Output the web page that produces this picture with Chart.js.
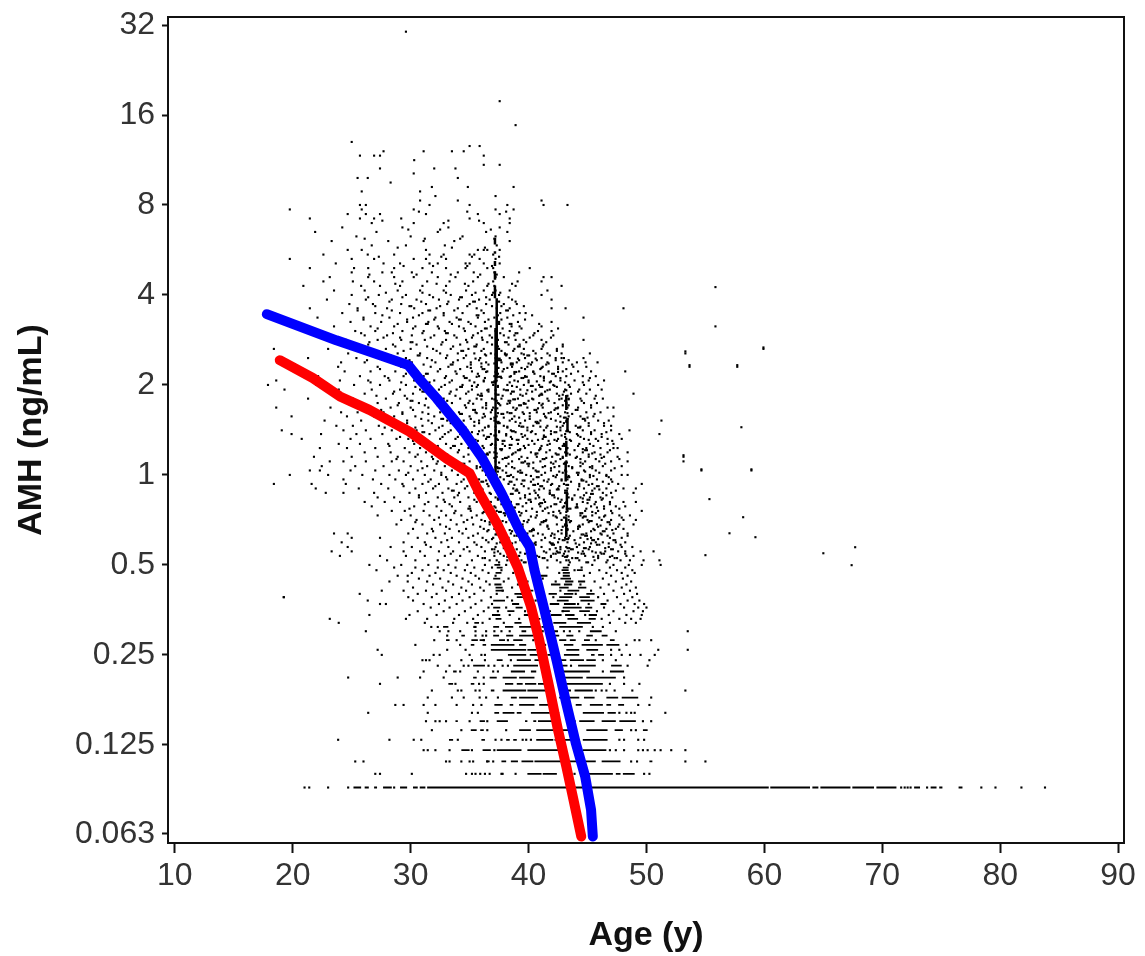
<!DOCTYPE html>
<html>
<head>
<meta charset="utf-8">
<title>AMH vs age</title>
<script src="https://cdn.jsdelivr.net/npm/chart.js@4/dist/chart.umd.min.js"></script>
<style>
  html, body { margin: 0; background: #fff; }
  canvas { display: block; }
</style>
</head>
<body>
<canvas id="chart" width="1145" height="956"></canvas>
<script>
// Valores lidos do gráfico. As medidas baixas de AMH vêm em degraus de 0.01,
// por isso ficam em linhas: cada nível tem pontos soltos e trechos contínuos.
const xTickValues = [10, 20, 30, 40, 50, 60, 70, 80, 90];
const yTickValues = [0.063, 0.125, 0.25, 0.5, 1, 2, 4, 8, 16, 32];

const blueAges = [17.8, 23.7, 26.5, 29.8, 30.8, 32.2, 34.4, 36.0, 37.7, 39.2, 40.1, 40.5, 41.4, 42.4, 43.2, 44.0, 44.8, 45.3, 45.45];
const blueAmh = [3.45, 2.82, 2.585, 2.33, 2.08, 1.805, 1.414, 1.15, 0.869, 0.655, 0.575, 0.481, 0.346, 0.2375, 0.172, 0.127, 0.098, 0.0758, 0.0617];
const redAges = [18.9, 21.7, 24.0, 26.5, 29.9, 33.0, 35.0, 35.85, 37.3, 38.4, 39.1, 40.2, 40.9, 41.8, 42.5, 43.2, 43.75, 44.47];
const redAmh = [2.42, 2.11, 1.83, 1.65, 1.396, 1.137, 1.013, 0.869, 0.691, 0.561, 0.489, 0.363, 0.281, 0.191, 0.14, 0.106, 0.084, 0.0617];

const lowLevels = [0.09, 0.10, 0.11, 0.12, 0.13, 0.14, 0.15, 0.16, 0.17, 0.18, 0.19, 0.20, 0.21, 0.22, 0.23, 0.24, 0.25, 0.26, 0.27, 0.28, 0.29, 0.30, 0.31, 0.32, 0.33, 0.34, 0.35, 0.36, 0.37, 0.38, 0.39, 0.40, 0.41, 0.42, 0.43, 0.44, 0.45, 0.46, 0.47, 0.48, 0.49, 0.50];
const lowDots = [
  [21, 21.4, 23, 24.7, 28.6, 71.6, 71.9, 72.15, 72.4, 73.8, 78.4, 79.6, 81.8, 83.8],
  [27, 27.4, 30.1, 34.7, 35.2, 35.5, 35.9, 36.3, 36.7, 37.7, 37.8, 38.9, 43.9, 49.8, 50.25],
  [25.3, 26, 33, 33.3, 34.3, 35, 35.3, 36.5, 37, 53.3, 55, 48.7, 49.2],
  [31.1, 31.45, 32.1, 33.3, 35.2, 37.1, 46.9, 47.4, 48.1, 49.3, 49.7, 50.1, 50.7, 51.2, 52.1, 53.3],
  [23.85, 28.2, 30.26, 30.9, 34, 37.2, 37.7, 39.5, 39.8, 40.2, 47.7, 48.1, 49.3, 49.8],
  [31.8, 34.3, 36.5, 38.1, 48.7, 49.1],
  [31.3, 32.1, 32.46, 33, 35, 36.5, 49.7, 50.4],
  [26.4, 31.45, 35.2, 35.7, 47.7, 48.3, 48.7, 49, 51.6],
  [28.7, 29.4, 31.1, 32.1, 33.9, 35.3, 36, 49.3, 50.25],
  [31.45, 33.5, 34.5, 35.85, 36.4, 37.4, 50.4],
  [31.8, 34, 34.3, 35.5, 35.85, 45.7, 46.2, 46.6, 47.3, 48.8, 53.3],
  [27.4, 33.8, 35.8, 36.2, 46.9, 48.1, 49.4],
  [24.7, 28.9, 30.8, 32.8, 36.2, 48.1],
  [31.1, 33, 34.2, 35.7, 37, 37.4, 46.3],
  [32.3, 33.3, 34.5, 34.9, 36.6, 37.1, 37.8, 38.25, 43.6, 48.4, 50.1],
  [31, 31.3, 31.6, 34.3, 35.2, 36.3, 38.5, 46.3, 47.4, 50.25],
  [27.55, 31.95, 32.46, 35, 36, 36.3, 47, 47.9, 48.6, 49.5, 50.7],
  [27.2, 33.1, 34.66, 42.3, 47, 47.7, 51, 53.5],
  [30.4, 34.2, 41.4, 48.3],
  [32, 33.9, 36.2, 38.25, 40.4, 45.7, 49, 49.4, 50.4],
  [33.1, 35.5, 36.1, 36.4],
  [26.2, 32.46, 33.2, 34.2, 35.5, 36.4, 37.1, 37.7, 38.4, 41.2, 43, 43.5, 44.3, 47.4, 53.5],
  [31.75, 32.3, 35.4, 35.5, 45.45, 46.3],
  [23.9, 31.2, 33.6, 34.8, 36.1, 37.9, 40.8, 46.9, 48.2, 49.1],
  [23.14, 29.6, 31.4, 33.7, 35.3, 36.7, 39.2, 46.2, 47.7, 48.7, 49.5],
  [26.5, 29.9, 32.2, 34.1, 35.7, 38.4, 44.8, 46.8, 48.3, 49.6],
  [30.6, 32.8, 34.6, 36.2, 37.4, 39.7, 42.9, 45.8, 47.2, 48.9, 49.7],
  [31.7, 33.3, 35.1, 36.6, 38.1, 40.3, 46.4, 48.1, 49.3, 50],
  [27.4, 27.9, 31.1, 32.4, 33.9, 35.5, 36.9, 44.2, 45.1, 47.8, 49, 49.8],
  [26.36, 30.2, 32.9, 34.4, 36, 38.6, 40.6, 46.7, 48.4, 49.4],
  [19.24, 29.8, 31.8, 33.5, 35, 36.8, 38.2, 42.1, 45.9, 47.5, 48.8],
  [25.68, 30.6, 32.2, 34.1, 35.4, 37.3, 39.4, 44, 46.4, 48.1, 49.2],
  [27.55, 29.4, 31.3, 33, 34.7, 36.2, 37.8, 42.7, 45.3, 47.2, 48.6],
  [30.2, 32.7, 34.3, 35.9, 38.6, 40.9, 46.1, 47.9, 49.1],
  [31.9, 33.6, 35.2, 36.7, 39.1, 44.4, 46.8, 48.3],
  [28.2, 29.75, 31.4, 33.2, 34.9, 36.4, 37.9, 42.3, 45.6, 47.4, 48.7],
  [30.7, 32.5, 34.4, 35.8, 38.3, 41.2, 46.3, 48],
  [28.9, 29.75, 31.6, 33.9, 35.5, 37.2, 39.5, 44.7, 47, 48.4],
  [30.1, 32.1, 33.4, 35.1, 36.6, 38.7, 42.6, 45.2, 46.6, 47.9, 49],
  [27.1, 31, 32.8, 34.6, 36.1, 37.7, 40.2, 43.9, 46, 47.5, 48.8],
  [28.6, 30.4, 32.3, 33.8, 35.4, 36.9, 39, 41.6, 44.5, 46.9, 48.2],
  [26.5, 29.2, 31.5, 33.2, 34.8, 36.3, 38.1, 40.7, 43.4, 45.4, 47.2, 48.5, 49.6, 51.2]
];
const lowRuns = [
  [[25.15, 25.8], [26.1, 26.45], [26.9, 27.15], [27.66, 28.4], [29.1, 29.7], [30.2, 30.6], [30.77, 31.25], [31.4, 60.37], [60.5, 63.87], [64.07, 64.58], [64.75, 67.3], [67.46, 69.3], [69.5, 71.2], [72.7, 73.2], [74.1, 74.6], [74.83, 75.1], [76.47, 76.8]],
  [[39.9, 41.1], [41.2, 42.4], [44.9, 47.15], [47.4, 47.8], [48, 49]],
  [[36.4, 36.7], [37.7, 38.1], [38.5, 39.1], [39.4, 40.4], [40.5, 41.8], [41.8, 42.8], [43.5, 45.7], [46.2, 47.8], [50.25, 50.5]],
  [[34.3, 35], [36.1, 36.8], [37.3, 39.4], [39.9, 42.5], [44.6, 46.6]],
  [[33.25, 33.6], [36, 36.3], [38.1, 38.4], [38.7, 39], [40.65, 42.1], [42.2, 44.3], [44.6, 46.7]],
  [[35.1, 35.6], [35.9, 36.2], [39.2, 40.2], [40.65, 42.1], [42.9, 43.8], [44.9, 46.7], [47.3, 48], [49.7, 50.1]],
  [[33.8, 34], [35.85, 36.3], [37.3, 38.25], [39.7, 39.9], [40.4, 40.65], [40.8, 42.1], [43.5, 44], [44.3, 45.6], [46.2, 47.4], [47.7, 49.1]],
  [[37.1, 37.5], [37.8, 38.8], [39, 39.4], [40.2, 41.8], [42.1, 42.6], [44.6, 46.4], [46.7, 47.4]],
  [[37.1, 37.8], [38.4, 38.7], [39.2, 40.5], [40.9, 41.8], [42.9, 43.6], [44, 44.5], [45.2, 46.3], [46.6, 47], [47.6, 48.1]],
  [[38.5, 39], [39.2, 40.8], [42.6, 44.3], [44.7, 45.6], [46.6, 47.6], [47.9, 49.3]],
  [[36.8, 37.1], [37.8, 39.8], [39.9, 41.8], [42.6, 43.6], [43.9, 45.45]],
  [[33.2, 33.6], [35.1, 35.4], [38, 38.7], [39, 39.5], [39.7, 40.65], [40.8, 41.8], [42.9, 46.3]],
  [[35.3, 35.6], [36.7, 37.3], [37.8, 39], [39.2, 40.5], [42.9, 44.6], [44.9, 47.4]],
  [[33.6, 33.9], [38.5, 39.7], [40.2, 40.65], [42.8, 45.2], [46.9, 48.1]],
  [[35.3, 36.3], [38.7, 40.8], [42.5, 43.3], [44.2, 45.7], [47, 47.9]],
  [[37.3, 37.8], [39, 40.2], [40.5, 40.9], [42.5, 43.2], [43.5, 44.7], [44.9, 45.7]],
  [[38.25, 39.8], [40.1, 41.1], [41.6, 42.6], [43, 44.3], [45.3, 45.6], [45.9, 46.4]],
  [[36.8, 39.8], [39.9, 40.65], [43.2, 44.3], [44.9, 45.9]],
  [[35.1, 35.4], [36.1, 36.4], [36.8, 38.8], [39.2, 39.8], [43, 43.8], [44.5, 46.3], [46.6, 47.7]],
  [[33, 33.3], [35.15, 35.7], [35.85, 36.3], [37.5, 38], [38.7, 39.5], [42.6, 43.2], [43.5, 44], [44.7, 45.2], [46.9, 47.3]],
  [[34.3, 34.6], [37, 37.5], [38.1, 38.7], [39.2, 40.4], [41.8, 42.6], [43.2, 43.8], [44.9, 45.45], [46.2, 46.7]],
  [[39.4, 39.8], [41.9, 42.5], [45.2, 46.2]],
  [[32.75, 33.2], [37, 37.5], [38, 38.7], [39.2, 40.4], [41.1, 42.1], [42.6, 44.6]],
  [[35.4, 35.8], [38.8, 39.4], [42.1, 43.2], [44.1, 45.3]],
  [[37.2, 37.7], [40.4, 41], [43.3, 44.2], [45.1, 45.7]],
  [[36.9, 37.6], [39.6, 40.2], [41.9, 42.8], [43.1, 43.9], [45.1, 45.8]],
  [[38.2, 38.8], [41.3, 41.9], [42.8, 43.5], [44.3, 45.2]],
  [[37, 37.6], [38.9, 39.5], [42.9, 44.5], [44.8, 45.4]],
  [[38.6, 39.2], [41.8, 42.6], [43, 44], [46.1, 46.6]],
  [[37, 38], [41, 41.5], [42.4, 43.4], [44.4, 45.6]],
  [[39, 39.7], [42.6, 43.7], [44.3, 45.2]],
  [[38.8, 39.4], [41.7, 42.4], [43, 43.8], [44.9, 45.6]],
  [[37.2, 37.9], [39.8, 40.4], [43.3, 44.3]],
  [[37.2, 37.8], [42.6, 43.4], [44.2, 44.9]],
  [[37.1, 37.7], [41.9, 42.7], [43, 43.7]],
  [[39.4, 40], [43.1, 43.8], [44.2, 44.8]],
  [[37, 37.6], [39.3, 39.8], [42.7, 43.6]],
  [[41, 41.6], [42.9, 43.5]],
  [[37.2, 37.7], [42.9, 43.5]],
  [[42.8, 43.4], [44.1, 44.6]],
  [[37.3, 37.8], [42.9, 43.4]],
  [[37.1, 37.6]]
];

const upperLevels = [0.518, 0.536, 0.555, 0.574, 0.595, 0.616, 0.637, 0.66, 0.683, 0.707, 0.732, 0.758, 0.785, 0.812, 0.841, 0.871, 0.901, 0.933, 0.966, 1.00, 1.035, 1.07, 1.11, 1.15, 1.19, 1.23, 1.27, 1.32, 1.37, 1.41, 1.46, 1.52, 1.57, 1.62, 1.68, 1.74, 1.80, 1.87, 1.93, 2.00, 2.07, 2.14, 2.22, 2.30, 2.38, 2.46, 2.55, 2.64, 2.73, 2.83, 2.93, 3.03, 3.14, 3.25, 3.36, 3.48, 3.61, 3.73, 3.86, 4.00, 4.14, 4.29, 4.44, 4.59, 4.76, 4.92, 5.10, 5.28, 5.46, 5.66, 5.86, 6.06, 6.28, 6.50, 6.73, 6.96, 7.21, 7.46, 7.73, 8.00, 8.28, 8.57, 8.88, 9.19, 9.51, 9.85, 10.2, 10.6, 10.9, 11.3, 11.7, 12.1, 12.6, 13.0];
const upperDots = [
  [28, 30.4, 32.3, 33.9, 35.2, 36.7, 37.3, 38.2, 39.4, 40.1, 41.6, 42.4, 43.2, 43.4, 44.3, 45.6, 46.7, 47.8, 48.6, 49.75, 51.1],
  [24, 27.4, 29.6, 31.2, 32.9, 34.2, 35.7, 37.1, 37.9, 39.2, 40.7, 41.9, 42.9, 43.3, 44.8, 45.9, 47.1, 48.3, 48.9],
  [23.3, 25, 29.4, 30.8, 32.4, 33.6, 35, 36.3, 37.4, 38.6, 39.9, 41.3, 42.4, 43.1, 43.4, 44.6, 45.4, 46.5, 47.6, 48.2, 49.5, 50.6],
  [24.66, 28.3, 30.1, 31.7, 33.2, 34.8, 36, 37.2, 38.1, 40.3, 41.1, 42.7, 43.2, 44.1, 45.2, 46.8, 47.9, 48.8],
  [24.15, 29.4, 31.2, 32.6, 34.1, 35.4, 36.6, 37.6, 38.9, 40.6, 41.8, 42.5, 43.3, 44.7, 45.7, 46.3, 47.4, 48.2],
  [25, 27.4, 30.6, 32.1, 33.5, 34.9, 36.1, 37, 38.3, 39.6, 41.4, 42.2, 43.1, 43.4, 44.4, 45.3, 46.9, 47.9],
  [23.5, 24.66, 29.8, 31.4, 32.9, 34.4, 35.7, 37.3, 38.5, 39.9, 40.8, 42, 42.8, 43.2, 44.9, 46.1, 47.2, 48.4],
  [30.2, 31.8, 33.3, 34.7, 36.2, 37.1, 37.8, 39.1, 40.4, 41.7, 43.3, 44.2, 45.5, 46.6, 47.4, 48.05],
  [28.8, 31, 32.5, 33.9, 35.3, 36.7, 37.4, 38.7, 39.5, 41, 42.4, 43.1, 44.6, 45.8, 46.9, 47.7, 48.9],
  [29.2, 30.5, 32, 33.4, 34.8, 36, 37.2, 38.4, 40, 41.5, 42.8, 43.4, 45, 46.2, 47, 48.05, 49.1],
  [27.2, 30, 31.6, 33, 34.3, 35.6, 36.9, 38, 39.3, 40.7, 42.1, 43.2, 44.4, 45.4, 46.5, 47.7, 48.6],
  [28.4, 29.5, 31.1, 32.6, 33.8, 35.1, 36.5, 37.3, 38.8, 39.8, 41.2, 42.6, 43.3, 44.8, 45.9, 47, 49.6],
  [26.7, 30.3, 32.2, 33.5, 35, 36.2, 37.1, 37.9, 39.5, 41, 41.9, 43, 44.1, 45.3, 46.4, 47.4, 48.2],
  [26.1, 27.8, 29.1, 31.5, 32.9, 34.2, 35.6, 36.8, 38.5, 40.2, 41.4, 42.7, 43.2, 44.6, 45.7, 46.9, 48.05, 49.1],
  [27.2, 28.6, 30.7, 32.3, 33.7, 34.9, 36.3, 37.2, 38.2, 39.7, 40.9, 42.2, 43.4, 44.4, 45.2, 46.1, 47.1],
  [22.8, 24.3, 26.9, 29.9, 31.3, 32.7, 34.1, 35.4, 36.7, 37.6, 39.2, 40.6, 41.8, 43.1, 44.9, 46.3, 47, 48.9],
  [21.95, 25.6, 28.1, 30.4, 31.9, 33.2, 34.6, 36, 37.3, 38.7, 40, 41.3, 42.5, 43.3, 44.7, 45.6, 46.6, 48.05, 49.1],
  [18.4, 21.6, 24.5, 27.5, 29.3, 31, 32.4, 33.9, 35.2, 36.5, 37.1, 38.3, 39.4, 40.8, 42, 43, 44.3, 45.4, 46.8, 47.6, 49.6],
  [24.3, 26.8, 28.7, 30.2, 31.7, 33.1, 34.5, 35.8, 37.2, 37.9, 39, 40.4, 41.7, 42.8, 43.3, 44.5, 45.8, 47],
  [19.75, 23, 25.9, 28.2, 29.6, 31.2, 32.6, 34, 35.3, 36.4, 37.3, 38.5, 39.8, 41.1, 42.4, 43.2, 44.2, 45.2, 46.6, 47.9, 48.4],
  [21.45, 22.3, 24.9, 27, 29, 30.6, 32, 33.5, 34.7, 36.1, 37, 37.8, 39.3, 40.6, 41.9, 43.1, 44.7, 45.7, 47, 54.66, 58.9],
  [22.46, 25.3, 27.7, 30, 31.4, 32.9, 34.2, 35.6, 36.8, 38.1, 40, 41.4, 42.6, 43.4, 44.4, 45.4, 46.3, 47.9],
  [23.14, 24.3, 26.2, 28.4, 29.4, 30.9, 32.3, 33.7, 35, 36.5, 37.2, 38.6, 39.7, 41, 42.3, 43.2, 44.8, 46, 47, 48.4, 53.14],
  [21.8, 25, 27.2, 28.9, 30.4, 31.8, 33.1, 34.5, 35.9, 37.3, 38.3, 39.4, 40.7, 42, 42.9, 44.1, 45.1, 46.4, 47.55, 53.14],
  [26.1, 28.3, 29.9, 31.3, 32.6, 34, 35.4, 36.7, 37.1, 38.9, 40.2, 41.5, 43.1, 44.6, 45.6, 46.7, 48.4],
  [22.3, 24.6, 27, 29.5, 30.8, 32.2, 33.4, 34.9, 36.2, 37.2, 38.4, 39.7, 41, 42.6, 43.3, 44.9, 46.1, 47.2, 47.55],
  [23.9, 25.7, 28.1, 30.3, 31.7, 33, 34.3, 35.6, 36.9, 37.8, 39.1, 40.5, 41.8, 43, 44.3, 45.2, 46.7, 47.2],
  [20.76, 24.9, 26.6, 28.8, 29.8, 31.2, 32.5, 33.8, 35.1, 36.4, 37.3, 38.6, 39.9, 41.2, 42.5, 43.2, 44.7, 45.7, 46.7, 47.9],
  [19.9, 22.4, 25.4, 27.6, 30, 31.6, 32.9, 34.2, 35.7, 36.8, 38.1, 39.4, 40.6, 41.9, 43.1, 44.1, 45.3, 46.2, 47.7, 51.1],
  [19.07, 24.3, 26.2, 28.4, 30.5, 32.1, 33.4, 34.8, 36.1, 37.2, 38.5, 39.9, 41.3, 42.7, 43.3, 44.6, 45.6, 47, 48.56],
  [23.7, 25.1, 27.3, 29.2, 31, 32.7, 34, 35.4, 36.6, 37.9, 39.2, 40.4, 41.6, 42.9, 44, 45.1, 46.4, 47],
  [22.7, 25.8, 28, 29.7, 31.5, 33.1, 34.5, 35.8, 37.1, 38.4, 39.7, 41, 42.3, 43.2, 44.8, 45.9, 46.8, 51.27],
  [19.9, 24.6, 26.9, 28.6, 30.4, 32, 33.6, 35, 36.3, 37.3, 38.8, 40.1, 41.4, 42.7, 43.4, 44.4, 45.5, 47.2],
  [24.1, 25.5, 27.7, 29.3, 31, 32.5, 34.1, 35.5, 36.8, 38.2, 39.5, 40.7, 41.9, 43.1, 44.9, 46.1],
  [18.6, 23.2, 26.3, 28.3, 30, 31.5, 33, 34.7, 36.1, 37, 38.7, 39.9, 41.2, 42.5, 43.3, 44.2, 45.3, 46.7, 47.2],
  [24.6, 25.6, 27.2, 29, 30.7, 32.2, 33.5, 34.9, 36.4, 37.4, 38.4, 39.6, 40.9, 42.2, 43.2, 44.7, 45.8],
  [21.3, 25.1, 27.9, 29.7, 31.3, 32.8, 34.2, 35.6, 36.9, 37.7, 39.1, 40.3, 41.6, 42.8, 43.4, 44.4, 45.6, 46.3],
  [23.4, 26.1, 28.5, 30.2, 31.9, 33.3, 34.7, 36, 37.2, 38.5, 39.8, 41.1, 42.4, 43.6, 44.9, 48.9],
  [19.3, 23.9, 26.7, 29.1, 30.8, 32.4, 33.9, 35.2, 36.6, 37.9, 39.3, 40.6, 41.8, 43.1, 44.3, 45.2, 46.2],
  [17.9, 22, 25.2, 27.4, 29.6, 31.4, 32.9, 34.4, 35.7, 37, 38.2, 39.6, 40.9, 42.1, 43.4, 44.7, 45.9],
  [18.6, 24, 26.4, 28.2, 30.3, 32, 33.5, 35, 36.2, 37.3, 38.8, 40, 41.3, 42.7, 43.9, 45.1, 46.4],
  [21.3, 22.15, 25.7, 27.8, 29.4, 31.1, 33, 34.5, 35.8, 37.1, 38.5, 39.7, 41, 42.3, 43.2, 44.6, 45.7],
  [24.4, 26.6, 28.7, 30.6, 32.3, 33.8, 35.2, 36.5, 37.8, 39.2, 40.4, 41.7, 42.9, 44.2, 45.3, 48.2],
  [19.75, 23.85, 27.2, 29.2, 31.7, 33.2, 34.8, 36, 37.3, 38.6, 39.9, 41.2, 42.5, 43.8, 44.9, 53.65, 57.7],
  [24.1, 26.1, 28.4, 30.1, 32.1, 33.6, 35.1, 36.4, 37.7, 39, 40.3, 41.6, 42.9, 44.1, 45.85, 44.83],
  [21.3, 25.4, 27.6, 29.6, 31.4, 33, 34.5, 35.9, 37.2, 38.4, 39.7, 41.1, 42.3, 42.8, 43, 44.66],
  [24.7, 26.8, 28.9, 30.8, 32.5, 34, 35.4, 36.8, 38, 39.4, 40.6, 41.6, 42.8, 45.2, 53.3],
  [18.4, 23, 25.9, 27.9, 30, 31.9, 33.4, 34.9, 36.2, 37.5, 38.8, 39.6, 41.1, 42.4, 59.92],
  [26.4, 28.5, 30.5, 32.6, 34.2, 35.6, 36.9, 38.3, 39.24, 41.27, 42.9],
  [24.5, 27.2, 29.2, 31.2, 33, 34.7, 36.1, 37.4, 38.9, 39.58, 41.1, 44.66],
  [22.6, 26.1, 28, 30.1, 32, 33.7, 35.3, 36.7, 37.9, 38.8, 40.4, 42.1],
  [25.3, 27, 29.3, 31.1, 32.9, 34.6, 36, 37.2, 38.4, 40.8, 41.95],
  [23.5, 26.6, 28.6, 30.4, 32.3, 34.1, 35.5, 36.8, 38.56, 39.24, 41.1, 55.85],
  [24.9, 27.5, 29.7, 31.5, 33.3, 34.9, 36.3, 37.5, 39.1, 41.95],
  [22.1, 26, 28.2, 30.2, 32.1, 33.9, 35.7, 37.1, 38.2, 44.66],
  [24.2, 27, 29.1, 31, 32.8, 34.4, 36.2, 37.6, 39.24, 39.75],
  [21.45, 25.5, 28, 30.3, 32.2, 34, 35.6, 37.3, 38.4, 41.95, 43.14, 48.05],
  [24.8, 26.8, 29.2, 31.3, 33.1, 35, 36.4, 37.9, 39],
  [22.9, 26.2, 28.4, 30.5, 32.4, 34.1, 35.8, 36.7, 38.6, 41.95],
  [25, 27.3, 29.6, 31.6, 33.4, 35.2, 36.9, 37.5, 41.1],
  [23.5, 26.1, 28.9, 30.8, 32.8, 34.7, 36.2, 37.2, 38.4, 41.6],
  [20.9, 25.8, 27.4, 29.1, 31, 33, 34.9, 36.5, 37.1, 38.9, 42.8],
  [22.6, 25.1, 26.9, 29.3, 31.4, 33.3, 35.3, 37, 39.07, 41.1],
  [23.14, 26.4, 28.6, 30.26, 32.3, 33.8, 35.7, 37.2, 37.9, 41.27, 41.95],
  [25, 27.6, 28.4, 30.1, 31.8, 34, 35.35, 37.1, 39.2],
  [21.45, 25.2, 26.4, 28.6, 31, 33, 34.66, 36.5, 37, 40.1],
  [23.65, 27.7, 29.1, 31.6, 32.3, 34.66, 35, 36.2, 37.55],
  [19.75, 25, 26.9, 30.26, 31.3, 33, 35.85, 37.2],
  [22.6, 26.36, 28.6, 31.6, 32.8, 35, 35.4, 37],
  [24.66, 25.85, 31.3, 35.7, 36.5, 36.2, 37.55],
  [26.7, 29.6, 32.9, 37.3],
  [23.3, 28.1, 31.1, 33.7, 38.4],
  [25.4, 30, 34.4, 37.2],
  [21.9, 27.1, 32.3, 36.4, 38.2],
  [24.2, 29.3, 33.2, 37.55],
  [26.7, 30.26, 32.8, 36.2, 38.4],
  [21.45, 25.7, 26.9, 29.2, 35, 38.4],
  [24.66, 26.2, 27.4, 31.3, 35.7, 37.55],
  [19.75, 25.85, 30.26, 37.2, 38.73],
  [25.7, 26.2, 31.6, 35, 38.2, 41.27, 43.3],
  [30.8, 34, 41.1],
  [32.1, 37.2],
  [25.85, 30.8],
  [31.8, 34.85, 38.73],
  [28.3],
  [25.5, 26.36, 34],
  [30.26],
  [27.4, 33.8, 32],
  [36.2, 37.55],
  [30.3],
  [26.9, 27.4, 25.7, 36.2],
  [27.7, 31.1, 33.5, 34.5],
  [35, 35.85],
  [25]
];

// Pontos da nuvem densa, entre os níveis acima (estimados na leitura).
const midLevels = [0.527, 0.545, 0.564, 0.584, 0.605, 0.626, 0.648, 0.671, 0.695, 0.72, 0.745, 0.771, 0.798, 0.826, 0.855, 0.886, 0.917, 0.949, 0.983, 1.017, 1.053, 1.09, 1.13, 1.17, 1.21, 1.25, 1.30, 1.34, 1.39, 1.44, 1.49, 1.54, 1.60, 1.65, 1.71, 1.77, 1.84, 1.90, 1.97, 2.04, 2.11, 2.18, 2.26, 2.34, 2.42, 2.51, 2.60, 2.69, 2.78, 2.88, 2.98, 3.09, 3.20, 3.31, 3.42, 3.55, 3.67, 3.80, 3.93, 4.07, 4.36, 4.68, 5.0, 5.37, 5.76, 6.17, 6.62, 7.09, 7.6];
const midDots = [
  [36.1, 36.3, 38.7, 38.9, 41.2, 41.35, 43.7, 44, 44.15, 45.9, 47.3, 47.5],
  [33.4, 37.6, 38.4, 39.7, 42.1, 42.3, 43, 44.5, 44.7, 46.2, 46.4, 48.2],
  [34.5, 36.9, 37.1, 39, 41.8, 42.7, 43.6, 43.75, 45.1, 47, 47.15],
  [31.3, 35.6, 38.3, 38.5, 40.6, 42, 42.15, 44.3, 45.8, 46, 47.8],
  [33.1, 36.4, 37.7, 39.3, 41.1, 42.9, 43.05, 43.9, 45.4, 45.55, 47.2, 47.35],
  [35.3, 37.5, 38.8, 39, 40.4, 41.9, 43.5, 44.8, 44.95, 46.7, 48.4],
  [31.9, 34.1, 36.5, 38.6, 40.1, 40.25, 42.5, 43.8, 45.3, 46.3, 46.45],
  [33, 35.9, 37.4, 37.55, 39.5, 41.6, 42.9, 44.2, 44.35, 45.9, 47.6],
  [30.4, 34.5, 36.7, 38.1, 39.9, 41.1, 41.25, 43.5, 45.1, 46.7, 46.85],
  [32.4, 35.2, 37, 38.8, 38.95, 40.6, 42.4, 43, 43.15, 44.6, 46, 47.9],
  [33.7, 36.1, 37.9, 38.05, 39.4, 41.7, 42.7, 44.4, 44.55, 45.7, 47.1],
  [29.9, 34.9, 35.05, 36.8, 38.5, 40.3, 41.4, 43.4, 43.55, 44.9, 46.4, 47.7],
  [31.2, 33.3, 36.4, 37.7, 39, 39.15, 40.9, 42.2, 42.35, 44.1, 45.6, 46.9],
  [32.8, 35.4, 37.4, 38.2, 40, 40.15, 41.3, 42.8, 43.7, 45, 45.15, 46.2],
  [30.7, 34, 36.2, 37.8, 39.7, 40.8, 42, 42.15, 43.9, 44.7, 46.6],
  [33.5, 33.65, 35.8, 37.3, 38.9, 39.05, 40.5, 41.8, 43.1, 43.25, 45.4, 47.4],
  [29.4, 32.1, 34.8, 36.6, 37.7, 39.6, 41, 41.15, 42.6, 44.3, 45.8, 45.95],
  [31.5, 34.3, 36, 36.15, 38.4, 38.55, 40.2, 41.6, 43.6, 44.9, 46.3, 47.1],
  [33, 35.3, 37.6, 38.7, 40.7, 40.85, 42.3, 43.3, 43.45, 45.2, 46.8],
  [29.8, 32.6, 34.7, 36.7, 38.1, 39.3, 39.45, 41.4, 42.9, 44.1, 44.25, 46],
  [31, 33.8, 35.6, 37.4, 37.55, 38.8, 40.4, 41.9, 43.7, 45.4, 47.3],
  [32.2, 34.4, 34.55, 36.3, 38.3, 39.9, 40.05, 42.1, 43, 43.15, 44.6, 46.5],
  [28.8, 31.9, 33.5, 35.9, 37.8, 39.2, 41.2, 41.35, 42.7, 44.4, 45.7, 47.7],
  [30.6, 33.1, 34.9, 36.4, 36.55, 38.6, 40.6, 42.4, 42.55, 43.5, 45.1, 46.1],
  [31.6, 34.1, 35.3, 37.7, 39.1, 39.25, 40.9, 41.8, 43.9, 44.8, 44.95, 46.9],
  [28.2, 32.3, 33.6, 33.75, 36.1, 38, 39.6, 41.1, 42.9, 43.05, 44.2, 45.5],
  [30.2, 31.4, 34.7, 35.7, 37.8, 37.95, 40.3, 41.7, 42.4, 43.6, 45.9, 47.1],
  [29.1, 32.7, 34, 36.5, 36.65, 38.5, 39.5, 41.3, 41.45, 43.1, 44.4, 46.2],
  [31, 31.15, 33.2, 35.2, 37.5, 38.9, 40.2, 42.2, 42.35, 43.5, 45.3, 46.6],
  [27.8, 30.4, 32.4, 34.5, 34.65, 36.3, 38.2, 39.9, 41.5, 42.7, 44.2, 44.35],
  [29.7, 31.8, 33.4, 35.8, 37.4, 37.55, 39.3, 40.7, 40.85, 43, 45.1, 46.4],
  [28.4, 30.9, 32.6, 32.75, 35.1, 36.8, 38.6, 40.1, 41.9, 43.3, 44.6, 44.75],
  [29.3, 31.5, 34.2, 34.35, 36.2, 37.7, 37.85, 39.6, 41.3, 42.5, 43.7, 45.6],
  [27.5, 30.2, 33, 35.3, 35.45, 36.9, 38.9, 40.5, 40.65, 42.2, 44, 44.15],
  [28.9, 31.2, 32.3, 34.6, 36.4, 37.6, 39.2, 39.35, 41.1, 42.9, 43.4, 45.3],
  [30, 30.15, 33.1, 35, 37.3, 38.3, 38.45, 40, 41.7, 43.1, 44.5],
  [27.1, 29.5, 32, 33.8, 35.9, 36.05, 37.8, 39.5, 40.9, 42.6, 43.3, 45.7],
  [28.6, 31, 31.15, 33.4, 34.9, 36.6, 38.6, 38.75, 40.3, 41.4, 43, 44.2],
  [30.4, 32.6, 34.2, 34.35, 35.6, 37.4, 39, 41, 41.15, 42.4, 43.5],
  [26.6, 29.2, 31.6, 33.3, 35.4, 36.9, 37.05, 38.4, 40, 41.8, 43.1, 44.6],
  [28.1, 30.8, 32.9, 34.6, 34.75, 36.3, 37.7, 39.4, 39.55, 41.3, 42.7, 45.2],
  [29.6, 31.3, 31.45, 33.9, 35.7, 37.4, 38.8, 40.5, 42, 42.15, 43.6],
  [27.4, 30.1, 32.5, 34.2, 36.1, 36.25, 37.9, 39.7, 41, 42.5, 43.2],
  [28.8, 31.1, 33.4, 33.55, 35.1, 36.6, 38.5, 38.65, 40.2, 41.5, 43.7],
  [26.3, 29.9, 31.8, 34, 35.8, 37.5, 37.65, 39.2, 40.7, 42.3, 43.4],
  [28.3, 30.6, 30.75, 33.1, 34.7, 36.4, 38.1, 39.9, 40.05, 41.8],
  [27, 29.4, 32.2, 34.3, 34.45, 36, 37.7, 38.7, 40.4, 42.4],
  [28.7, 31.4, 33.6, 35.4, 35.55, 37.4, 39.1, 39.25, 41.2, 42.9],
  [26.5, 30, 30.15, 32.7, 34.8, 36.5, 38, 38.15, 39.8, 41.5],
  [27.7, 29.1, 31.7, 33.9, 35.2, 36.9, 36.05, 38.3, 40.1, 41.9],
  [25.8, 28.5, 31, 33, 33.15, 35.7, 37.6, 38.9, 39.05, 40.5],
  [27.2, 30.2, 32.4, 34.5, 36.3, 36.45, 37.8, 39.4, 42.5],
  [28.9, 31.3, 31.45, 33.5, 35.1, 37.5, 38.4, 38.55, 40.9],
  [26, 29.7, 32, 34.1, 34.25, 36.6, 37.7, 39.7],
  [27.6, 30.7, 32.8, 35.6, 35.75, 37.4, 38.7, 40.3],
  [25.5, 28.4, 31.5, 31.65, 33.7, 36, 38.1, 38.25],
  [27, 29.9, 30.05, 32.5, 34.8, 36.9, 37.7, 39.6],
  [28.2, 30.9, 33.2, 35.3, 35.45, 37.5, 38.9],
  [26.4, 29.3, 31.9, 34.2, 34.35, 36.4, 38.3],
  [27.9, 31, 33, 35.5, 37, 37.6],
  [28.7, 32.2, 34.6, 36.6, 38.6],
  [26.5, 30.5, 33.4, 35.9, 37.3],
  [29.4, 31.9, 34.8, 36.9],
  [27.3, 32.6, 35.2, 37.5],
  [28.9, 33.5, 36.3],
  [26.1, 31.2, 34.2, 37.1],
  [29.8, 32.5, 36.8],
  [27.6, 33.2, 35.8],
  [30.7, 34.8, 38.1]
];

// Miolo mais carregado da nuvem: idades 36 a 46, AMH de 0.5 a 2.6.
const coreLevels = [0.51, 0.532, 0.55, 0.569, 0.59, 0.61, 0.632, 0.654, 0.677, 0.701, 0.726, 0.752, 0.778, 0.805, 0.834, 0.864, 0.894, 0.926, 0.958, 0.992, 1.026, 1.062, 1.10, 1.14, 1.18, 1.22, 1.26, 1.31, 1.355, 1.40, 1.45, 1.505, 1.555, 1.61, 1.67, 1.73, 1.79, 1.855, 1.92, 1.985, 2.055, 2.13, 2.21, 2.28, 2.36, 2.45, 2.53];
const coreDots = [
  [37.5, 39.6, 39.75, 42.7, 43.5, 44.9, 45.05, 46.6],
  [38.2, 38.35, 40.9, 41.9, 43.1, 43.25, 45.5, 46.9],
  [37.1, 39.3, 41.5, 42.5, 42.65, 44.2, 45.7, 46.1],
  [37.9, 39.9, 42.3, 43.3, 43.45, 44.7, 44.85, 46.5],
  [37.3, 38.6, 40.5, 41.9, 42.05, 44, 45.3, 46.8],
  [36.9, 38.2, 39.7, 42.6, 43.2, 43.35, 45, 45.9],
  [37.2, 37.35, 39.1, 41.2, 42.2, 44.5, 44.65, 46.2],
  [36.6, 38.4, 40.3, 40.45, 42.8, 43.3, 45.6, 47.1],
  [37.3, 38.9, 39.05, 41.6, 43.1, 43.25, 44.3, 46.1],
  [36.3, 37.8, 39.6, 41.3, 41.45, 43.6, 45.2, 45.35],
  [37.1, 38.3, 40.2, 42.3, 43.4, 44.7, 44.85, 46.4],
  [36.2, 37.5, 37.65, 39.2, 40.7, 42.1, 43.2, 45.4],
  [37.2, 38.7, 38.85, 41.6, 42.9, 44, 44.15, 45.8],
  [36.5, 38, 39.8, 41, 41.15, 43.1, 43.25, 45],
  [37.4, 37.55, 39.3, 40.6, 42.5, 43.7, 44.6, 46.3],
  [36.8, 38.5, 38.65, 40.1, 41.8, 43.3, 45.3, 45.45],
  [36.1, 37.2, 39, 40.9, 42.4, 42.55, 44.2, 46],
  [37.6, 38.8, 40.4, 40.55, 41.9, 43.2, 43.35, 45.1],
  [36.4, 37.3, 39.5, 39.65, 41.3, 42.8, 44.5, 44.65],
  [37.1, 38.2, 38.35, 40.2, 42.1, 43.4, 45.5, 46.6],
  [36.7, 37.4, 39.1, 40.7, 40.85, 42.6, 43.2, 44.8],
  [35.9, 37.2, 37.35, 38.6, 41.2, 42.2, 43.7, 45.2],
  [36.3, 37.5, 39.4, 39.55, 40.4, 41.9, 43.1, 43.25, 44.4],
  [37.1, 38, 38.15, 39.9, 41.5, 42.9, 44, 46.2],
  [36.5, 37.3, 38.7, 40.6, 40.75, 42.3, 43.3, 45.4],
  [35.7, 37.6, 37.75, 39.3, 41, 42.7, 43.2, 44.6],
  [36.8, 37.2, 38.4, 38.55, 40, 41.6, 43, 43.15],
  [35.5, 37.4, 39, 39.15, 40.8, 42.2, 43.5, 45.1],
  [36.2, 37.1, 37.25, 38.1, 39.7, 41.3, 42.8, 44.2],
  [35.8, 37.5, 38.6, 38.75, 40.3, 41.9, 43.2, 43.35],
  [36.6, 37.2, 38.2, 39.4, 39.55, 41, 42.4, 44.4],
  [35.4, 37.3, 37.45, 38.9, 40.6, 40.75, 42.7, 43.2],
  [36.1, 37.1, 37.9, 39.2, 41.5, 43, 43.15, 45],
  [35.6, 37.4, 38.4, 38.55, 40.1, 41.7, 43.3],
  [36.4, 37.2, 37.35, 39, 40.8, 42.3, 42.45],
  [35.3, 37.5, 38.2, 39.6, 39.75, 41.2, 43.2],
  [36, 37.1, 38.7, 38.85, 40.4, 42.6, 43.4],
  [35.7, 37.3, 37.45, 39.3, 41, 41.15, 42.9],
  [36.5, 37.2, 38.1, 38.25, 39.9, 41.6, 43.2],
  [35.2, 37.4, 38.6, 40.2, 40.35, 42.2],
  [36.2, 37.1, 37.25, 39.1, 40.7, 41.9],
  [35.6, 37.5, 37.65, 38.4, 39.7, 39.85, 41.3],
  [36.4, 37.2, 38.8, 38.95, 40.4, 42.5],
  [35.1, 37.3, 37.45, 38.2, 39.4, 41.1],
  [36, 37.1, 38.5, 38.65, 40, 41.7],
  [35.5, 37.4, 37.55, 39.1, 40.6],
  [36.3, 37.2, 38, 38.15, 39.6]
];

const outlierAges = [29.6, 37.55, 38.9, 55.85, 53.3, 53.65, 59.92, 57.7, 58.05, 53.14, 54.66, 58.9, 55.34, 58.2, 57.04, 59.24, 55, 65, 67.7, 67.4, 19.24];
const outlierAmh = [30.4, 17.8, 14.8, 4.25, 2.59, 2.33, 2.67, 2.33, 1.444, 1.164, 1.044, 1.044, 0.83, 0.722, 0.638, 0.619, 0.539, 0.547, 0.573, 0.499, 0.39];

// Colunas verticais: idades muito repetidas (37 anos e 43 anos) formam traços.
const columnAges = [37.2, 37.3, 37.15, 37.15, 37.15, 37.15, 37.15, 43.2, 43.25, 43.15, 43.2, 43.3, 43.2];
const columnFrom = [1.0, 2.1, 3.9, 4.5, 5.0, 5.5, 5.9, 0.62, 0.76, 0.95, 1.15, 1.4, 1.65];
const columnTo = [3.1, 3.9, 4.3, 4.8, 5.2, 5.6, 6.2, 0.72, 0.88, 1.1, 1.3, 1.55, 1.85];

const AXIS_INK = "#111";
const TICK_INK = "#333";
const FONT = "'Liberation Sans', Arial, sans-serif";

function buildDots() {
  const dots = [];
  const addRows = (levels, rows) => levels.forEach((y, i) => rows[i].forEach((x) => dots.push({ x, y })));
  addRows(lowLevels, lowDots);
  addRows(upperLevels, upperDots);
  addRows(midLevels, midDots);
  addRows(coreLevels, coreDots);
  outlierAges.forEach((x, i) => dots.push({ x, y: outlierAmh[i] }));
  return dots;
}

// Trechos contínuos: uma só linha, com pontos NaN separando cada trecho.
function buildRuns() {
  const pts = [];
  lowLevels.forEach((y, i) => lowRuns[i].forEach(([a, b]) => {
    pts.push({ x: a, y }, { x: b, y }, { x: b, y: NaN });
  }));
  return pts;
}

function buildColumns() {
  const pts = [];
  columnAges.forEach((x, i) => {
    pts.push({ x, y: columnFrom[i] }, { x, y: columnTo[i] }, { x, y: NaN });
  });
  return pts;
}

const zip = (xs, ys) => xs.map((x, i) => ({ x, y: ys[i] }));

// Moldura completa: Chart.js só desenha as bordas esquerda e inferior.
const framePlugin = {
  id: "frame",
  afterDraw(chart) {
    const { left, right, top, bottom } = chart.chartArea;
    const c = chart.ctx;
    c.save();
    c.strokeStyle = AXIS_INK;
    c.lineWidth = 2;
    c.strokeRect(left, top, right - left, bottom - top);
    c.restore();
  },
};

new Chart(document.getElementById("chart"), {
  type: "scatter",
  data: {
    datasets: [
      { label: "Azul", data: zip(blueAges, blueAmh), showLine: true, borderColor: "#0000ff", borderWidth: 10, borderCapStyle: "round", borderJoinStyle: "round", pointRadius: 0, order: 1 },
      { label: "Vermelho", data: zip(redAges, redAmh), showLine: true, borderColor: "#ff0000", borderWidth: 10, borderCapStyle: "round", borderJoinStyle: "round", pointRadius: 0, order: 2 },
      { label: "Colunas", data: buildColumns(), showLine: true, borderColor: "#000", borderWidth: 2.5, pointRadius: 0, spanGaps: false, order: 3 },
      { label: "Trechos", data: buildRuns(), showLine: true, borderColor: "#000", borderWidth: 1.8, pointRadius: 0, spanGaps: false, order: 4 },
      { label: "Pontos", data: buildDots(), backgroundColor: "#000", borderWidth: 0, pointStyle: "rect", pointRadius: 1.5, order: 5 },
    ],
  },
  options: {
    responsive: false,
    animation: false,
    layout: { padding: { top: 17, right: 21, bottom: 0, left: 11 } },
    plugins: { legend: { display: false }, tooltip: { enabled: false } },
    scales: {
      x: {
        type: "linear",
        min: 9.42,
        max: 90.5,
        afterFit: (s) => { s.height = 113; s.paddingLeft = 0; s.paddingRight = 0; },
        afterBuildTicks: (s) => { s.ticks = xTickValues.map((value) => ({ value })); },
        border: { color: AXIS_INK, width: 2 },
        grid: { drawOnChartArea: false, tickLength: 10, tickColor: AXIS_INK, tickWidth: 2 },
        ticks: { color: TICK_INK, font: { family: FONT, size: 32 }, padding: 4, maxRotation: 0, autoSkip: false, callback: (v) => String(v) },
        title: { display: true, text: "Age (y)", color: "#111", font: { family: FONT, size: 34, weight: "bold" }, padding: { top: 4, bottom: 0 } },
      },
      y: {
        type: "logarithmic",
        min: 0.0587,
        max: 34.04,
        afterFit: (s) => { s.width = 157; s.paddingTop = 0; s.paddingBottom = 0; },
        afterBuildTicks: (s) => { s.ticks = yTickValues.map((value) => ({ value })); },
        border: { color: AXIS_INK, width: 2 },
        grid: { drawOnChartArea: false, tickLength: 6, tickColor: AXIS_INK, tickWidth: 2 },
        ticks: { color: TICK_INK, font: { family: FONT, size: 32 }, padding: 7, autoSkip: false, callback: (v) => String(v) },
        title: { display: true, text: "AMH (ng/mL)", color: "#111", font: { family: FONT, size: 34, weight: "bold" }, padding: { top: 0, bottom: 4 } },
      },
    },
  },
  plugins: [framePlugin],
});
</script>
</body>
</html>
